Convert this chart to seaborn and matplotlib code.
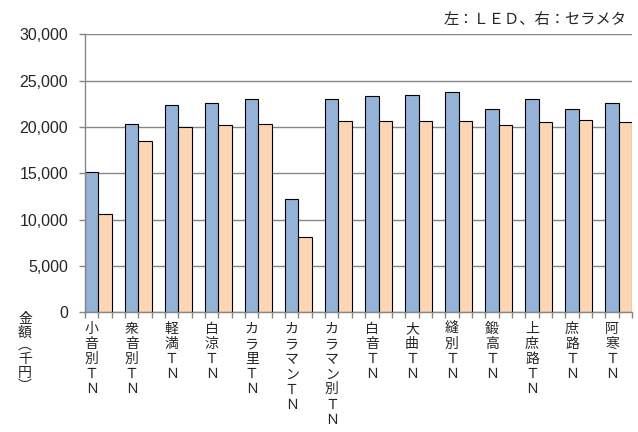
import numpy as np
import pandas as pd
import matplotlib
matplotlib.use("Agg")
import matplotlib.pyplot as plt
import seaborn as sns

# 施設名（縦書き表示用に一文字ずつ改行）
facilities = ["小音別ＴＮ", "衆音別ＴＮ", "軽満ＴＮ", "白涼ＴＮ", "カラ里ＴＮ", "カラマンＴＮ",
              "カラマン別ＴＮ", "白音ＴＮ", "大曲ＴＮ", "縫別ＴＮ", "鍛高ＴＮ", "上庶路ＴＮ",
              "庶路ＴＮ", "阿寒ＴＮ"]
# 金額（千円）
led_cost = [15100, 20300, 22400, 22600, 23000, 12200, 23000,
            23300, 23400, 23800, 21900, 23000, 21900, 22600]
cerameta_cost = [10600, 18500, 20000, 20200, 20300, 8150, 20600,
                 20600, 20600, 20600, 20200, 20500, 20700, 20500]
series_names = ["LED", "セラメタ"]
y_ticks = [0, 5000, 10000, 15000, 20000, 25000, 30000]

df = pd.DataFrame({
    "施設": facilities * 2,
    "種別": [series_names[0]] * len(facilities) + [series_names[1]] * len(facilities),
    "金額": led_cost + cerameta_cost,
})

sns.set_theme(style="white")
plt.rcParams["font.family"] = ["Liberation Sans", "Noto Sans CJK JP", "DejaVu Sans"]
cjk = ["Noto Sans CJK JP", "DejaVu Sans"]

fig = plt.figure(figsize=(6.38, 4.32), dpi=100)
ax = fig.add_axes([85 / 638, 1 - 312.3 / 432, (632 - 85) / 638, (312.3 - 34.3) / 432])

grid_color = "#868686"
ax.set_axisbelow(True)
ax.yaxis.grid(True, color=grid_color, linewidth=1.0)

sns.barplot(data=df, x="施設", y="金額", hue="種別",
            palette=["#95B3D7", "#FCD5B5"], saturation=1, width=2 / 3,
            edgecolor="black", linewidth=0.8, legend=False, ax=ax)

n = len(facilities)
ax.set_xlim(-1 / 3, n - 1 + 1 / 3)
ax.set_ylim(0, 30000)
ax.set_yticks(y_ticks)
ax.set_yticklabels([f"{v:,}" for v in y_ticks], fontsize=11.5)
ax.tick_params(axis="y", length=4, color=grid_color, width=1.0, pad=8, left=True)

# 棒の区切りごとの目盛り
ax.set_xticks([-1 / 3 + k / 3 for k in range(3 * n)], minor=True)
ax.tick_params(axis="x", which="minor", length=4, color=grid_color, width=1.0,
               bottom=True, direction="out")
ax.set_xticks([i - 1 / 6 for i in range(n)])
ax.set_xticklabels(["\n".join(name) for name in facilities],
                   family=cjk, fontsize=10, linespacing=1.1, va="top")
ax.tick_params(axis="x", which="major", length=0, pad=7)

ax.set_xlabel("")
ax.set_ylabel("")
for side in ["top", "right"]:
    ax.spines[side].set_visible(False)
for side in ["left", "bottom"]:
    ax.spines[side].set_color(grid_color)
    ax.spines[side].set_linewidth(1.0)

fig.text(25 / 638, 1 - 312 / 432, "金\n額\n︵\n千\n円\n︶", family=cjk,
         fontsize=10, ha="center", va="top", linespacing=0.95)
fig.text(627 / 638, 1 - 19.5 / 432, "左：ＬＥＤ、右：セラメタ", family=cjk,
         fontsize=11, ha="right", va="center")

fig.savefig("out.png", dpi=100)
